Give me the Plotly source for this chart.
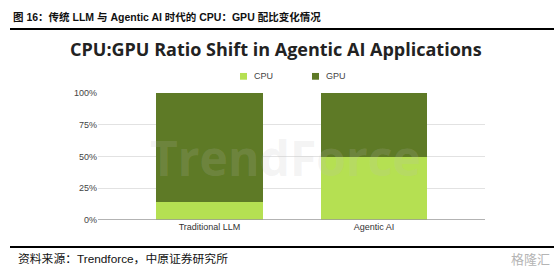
import plotly.graph_objects as go

categories = ["Traditional LLM", "Agentic AI"]
cpu_share = [14.5, 50]
gpu_share = [85.5, 50]
y_ticks = [0, 25, 50, 75, 100]
y_tick_labels = ["0%", "25%", "50%", "75%", "100%"]

W, H = 554, 278
CPU_C = "#b5e052"
GPU_C = "#5e7a26"

def px(x):
    return x / W

def py(y):
    return 1 - y / H

fig = go.Figure()
fig.add_trace(go.Bar(x=[0, 1], y=cpu_share, name="CPU", marker=dict(color=CPU_C, line=dict(width=0)),
                     width=0.65, showlegend=False))
fig.add_trace(go.Bar(x=[0, 1], y=gpu_share, name="GPU", marker=dict(color=GPU_C, line=dict(width=0)),
                     width=0.65, showlegend=False))

fig.update_layout(
    width=W, height=H, margin=dict(l=0, r=0, t=0, b=0),
    paper_bgcolor="white", plot_bgcolor="white",
    barmode="stack", bargap=0,
    xaxis=dict(domain=[px(98), px(485)], range=[-0.678, 1.675],
               tickvals=[0, 1], ticktext=categories, showgrid=False,
               zeroline=False, showline=False, ticks="",
               tickfont=dict(family="Liberation Sans, Arial", size=9, color="#333333")),
    yaxis=dict(domain=[py(223), py(91)], range=[0, 100],
               tickvals=y_ticks, ticktext=y_tick_labels,
               showgrid=True, gridcolor="#e2e2e2", gridwidth=1,
               zeroline=False, showline=False, ticks="",
               tickfont=dict(family="Liberation Sans, Arial", size=9, color="#444444")),
    font=dict(family="Liberation Sans, Arial"),
)

# baseline
fig.add_shape(type="line", xref="paper", yref="y", x0=px(98), x1=px(485), y0=0, y1=0,
              line=dict(color="#9a9a9a", width=1.5))

# watermark
fig.add_annotation(xref="paper", yref="paper", x=px(285), y=py(158), text="<b>TrendForce</b>",
                   showarrow=False, font=dict(family="Open Sans", size=48, color="rgba(190,190,190,0.18)"),
                   xanchor="center", yanchor="middle")

# header
fig.add_annotation(xref="paper", yref="paper", x=px(11), y=py(12),
                   text="<b>图 16：传统 LLM 与 Agentic AI 时代的 CPU：GPU 配比变化情况</b>",
                   showarrow=False, xanchor="left", yanchor="middle",
                   font=dict(family="Liberation Sans, Noto Sans CJK SC", size=10.5, color="#111111"))
fig.add_shape(type="line", xref="paper", yref="paper", x0=px(10), x1=1, y0=py(25), y1=py(25),
              line=dict(color="black", width=2))

# chart title
fig.add_annotation(xref="paper", yref="paper", x=px(276), y=py(46),
                   text="<b>CPU:GPU Ratio Shift in Agentic AI Applications</b>",
                   showarrow=False, xanchor="center", yanchor="middle",
                   font=dict(family="Open Sans", size=18, color="#222222"))

# legend (custom)
for lx, label, col in [(240, "CPU", CPU_C), (312, "GPU", GPU_C)]:
    fig.add_shape(type="rect", xref="paper", yref="paper", x0=px(lx), x1=px(lx + 7),
                  y0=py(77.5), y1=py(70.5), fillcolor=col, line=dict(width=0))
    fig.add_annotation(xref="paper", yref="paper", x=px(lx + 12), y=py(74), text=label,
                       showarrow=False, xanchor="left", yanchor="middle",
                       font=dict(family="Liberation Sans, Arial", size=9, color="#444444"))

# footer
fig.add_shape(type="line", xref="paper", yref="paper", x0=px(10), x1=1, y0=py(251), y1=py(251),
              line=dict(color="black", width=2))
fig.add_annotation(xref="paper", yref="paper", x=px(16), y=py(263),
                   text="资料来源：Trendforce，中原证券研究所",
                   showarrow=False, xanchor="left", yanchor="middle",
                   font=dict(family="Liberation Sans, Noto Sans CJK SC", size=11.8, color="#111111"))
fig.add_annotation(xref="paper", yref="paper", x=px(552), y=py(263),
                   text="格隆汇", showarrow=False, xanchor="right", yanchor="middle",
                   font=dict(family="Noto Sans CJK SC", size=13, color="#b5b5b5"))

fig.write_html("out.html")
